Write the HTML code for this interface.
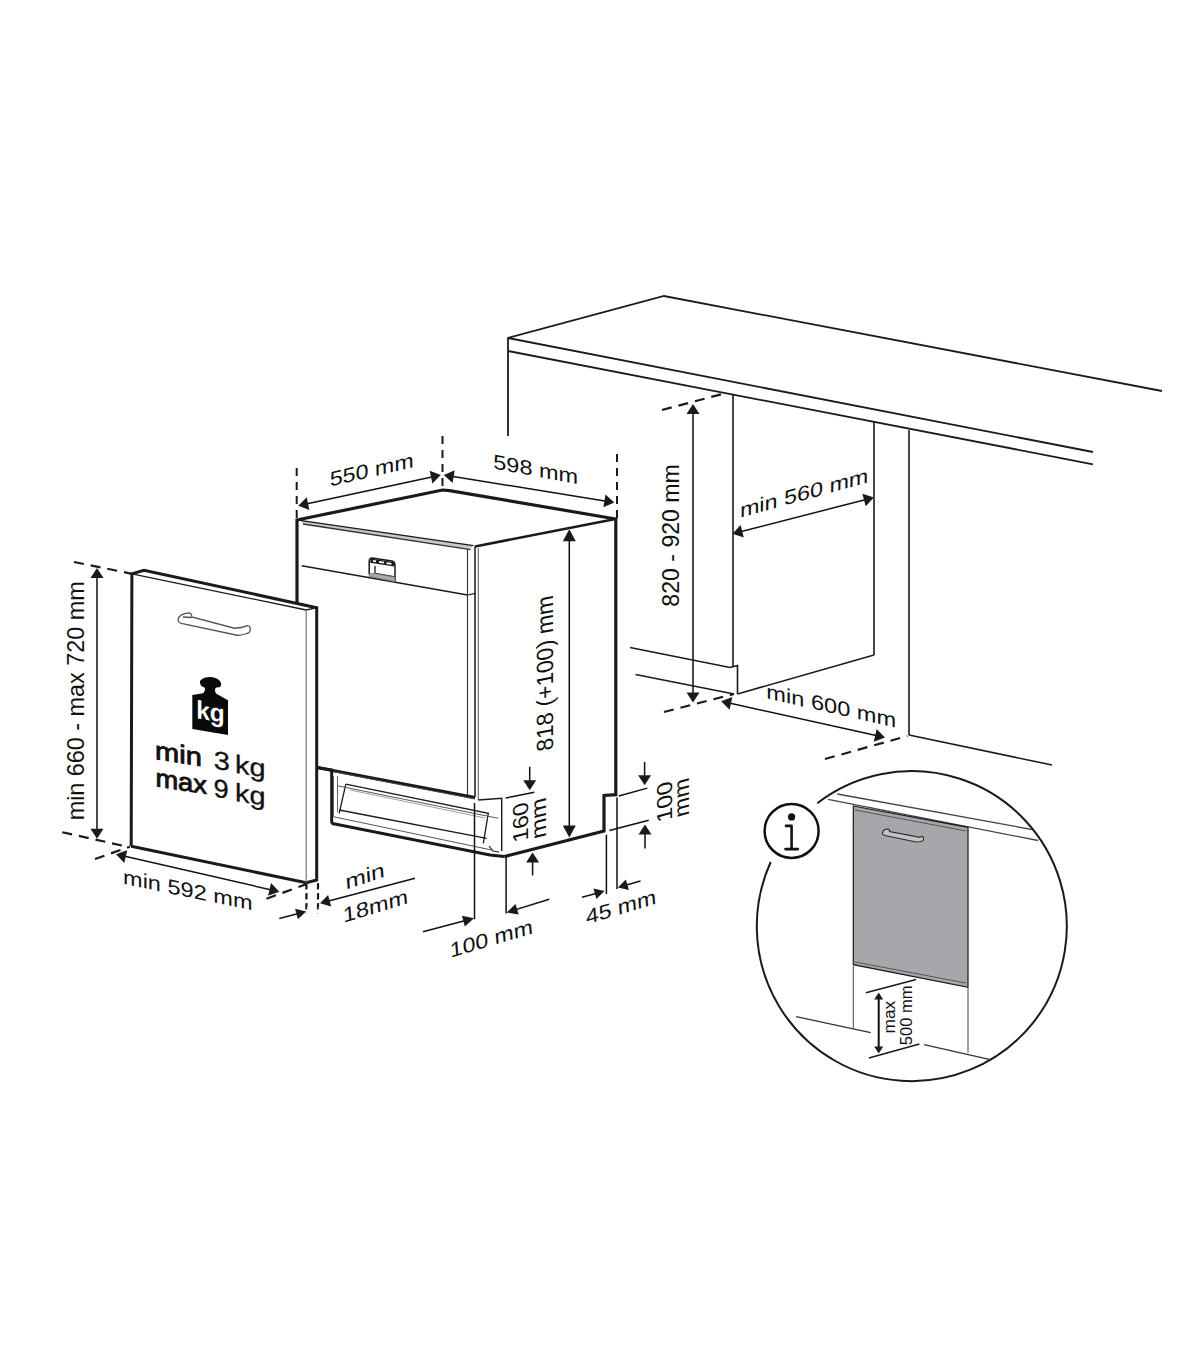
<!DOCTYPE html>
<html><head><meta charset="utf-8"><style>
html,body{margin:0;padding:0;background:#fff;}
svg{display:block;}
text{font-family:"Liberation Sans",sans-serif;}
</style></head><body>
<svg width="1200" height="1372" viewBox="0 0 1200 1372">
<rect width="1200" height="1372" fill="#fff"/>
<polyline points="508,436 508,338 664,296 1162,391" stroke="#1a1a1a" stroke-width="1.8" fill="none" stroke-linejoin="miter"/>
<line x1="508" y1="338" x2="1093" y2="452" stroke="#1a1a1a" stroke-width="1.8" stroke-linecap="butt"/>
<line x1="508" y1="351" x2="1093" y2="464.3" stroke="#1a1a1a" stroke-width="1.8" stroke-linecap="butt"/>
<line x1="733" y1="394" x2="733" y2="666" stroke="#1a1a1a" stroke-width="1.6" stroke-linecap="butt"/>
<line x1="874" y1="421" x2="874" y2="655" stroke="#1a1a1a" stroke-width="1.6" stroke-linecap="butt"/>
<line x1="909" y1="430" x2="909" y2="735" stroke="#1a1a1a" stroke-width="1.6" stroke-linecap="butt"/>
<line x1="909" y1="735" x2="1052" y2="765" stroke="#1a1a1a" stroke-width="1.6" stroke-linecap="butt"/>
<polyline points="630,647.5 730,667.5 737.5,665.5 737.5,694" stroke="#1a1a1a" stroke-width="1.6" fill="none" stroke-linejoin="miter"/>
<line x1="737.5" y1="694" x2="874" y2="655" stroke="#1a1a1a" stroke-width="1.6" stroke-linecap="butt"/>
<line x1="635.5" y1="674.5" x2="734" y2="694" stroke="#1a1a1a" stroke-width="1.6" stroke-linecap="butt"/>
<line x1="662" y1="410" x2="726" y2="393" stroke="#1a1a1a" stroke-width="2.2" stroke-dasharray="10 7" stroke-linecap="butt"/>
<line x1="664" y1="712" x2="734" y2="694" stroke="#1a1a1a" stroke-width="2.2" stroke-dasharray="10 7" stroke-linecap="butt"/>
<line x1="825" y1="759" x2="907.5" y2="736" stroke="#1a1a1a" stroke-width="2.2" stroke-dasharray="10 7" stroke-linecap="butt"/>
<line x1="693" y1="412" x2="693" y2="694.5" stroke="#111" stroke-width="1.5" stroke-linecap="butt"/>
<polygon points="693,404 699.5,414 686.5,414" fill="#1a1a1a"/>
<polygon points="693,702.5 686.5,692.5 699.5,692.5" fill="#1a1a1a"/>
<line x1="740.2" y1="531.8" x2="866" y2="499.5" stroke="#111" stroke-width="1.5" stroke-linecap="butt"/>
<polygon points="732.5,533.8 740.6,525 743.8,537.6" fill="#1a1a1a"/>
<polygon points="873.8,497.5 865.7,506.3 862.4,493.7" fill="#1a1a1a"/>
<line x1="729.1" y1="703" x2="877.2" y2="735.8" stroke="#111" stroke-width="1.5" stroke-linecap="butt"/>
<polygon points="721.2,701.2 732.4,697.1 729.6,709.8" fill="#1a1a1a"/>
<polygon points="885,737.5 873.8,741.7 876.6,729" fill="#1a1a1a"/>
<text transform="translate(679.00 535.45) matrix(1.17 0.0000 0 1 0 0) rotate(-90)" x="0" y="0" font-size="20.00" text-anchor="middle" fill="#111" textLength="142.50" lengthAdjust="spacingAndGlyphs" style="white-space:pre">820 - 920 mm</text>
<text transform="translate(804.12 500.00) matrix(1.17 -0.3224 -0.0100 1 0 0)" x="0" y="0" font-size="20.50" text-anchor="middle" fill="#111" textLength="109.75" lengthAdjust="spacingAndGlyphs" style="white-space:pre">min 560 mm</text>
<text transform="translate(831.25 713.00) matrix(1.17 0.2663 0.0000 1 0 0)" x="0" y="0" font-size="20.50" text-anchor="middle" fill="#111" textLength="111.02" lengthAdjust="spacingAndGlyphs" style="white-space:pre">min 600 mm</text>
<polyline points="297,603 297,520 442.5,490 449.5,490.6 615.8,519 615.8,794.7 604,795.5 604,831 504.2,856.6" stroke="#1a1a1a" stroke-width="3.2" fill="none" stroke-linejoin="miter"/>
<line x1="615.5" y1="519" x2="475" y2="546.5" stroke="#1a1a1a" stroke-width="2.6" stroke-linecap="butt"/>
<polygon points="301,520.5 473,545.5 470,549.5 303,524" stroke="#1a1a1a" stroke-width="0" fill="#c8c8c8" stroke-linejoin="miter"/>
<line x1="300" y1="520.3" x2="473.5" y2="545.6" stroke="#1a1a1a" stroke-width="1.3" stroke-linecap="butt"/>
<line x1="303" y1="524" x2="470.5" y2="549.6" stroke="#333" stroke-width="1.3" stroke-linecap="butt"/>
<line x1="301.7" y1="565.8" x2="467.5" y2="595" stroke="#1a1a1a" stroke-width="1.4" stroke-linecap="butt"/>
<line x1="467.5" y1="595" x2="475.8" y2="593.3" stroke="#1a1a1a" stroke-width="1.2" stroke-linecap="butt"/>
<line x1="467.5" y1="549" x2="467.5" y2="797" stroke="#333" stroke-width="1.1" stroke-linecap="butt"/>
<line x1="475" y1="546.5" x2="475" y2="797" stroke="#1a1a1a" stroke-width="1.5" stroke-linecap="butt"/>
<line x1="478.3" y1="548" x2="478.3" y2="800" stroke="#555" stroke-width="1.0" stroke-linecap="butt"/>
<path d="M369.2,574 L369.2,561 Q369.5,558 372,558 L392,561 Q395,562 395,565 L395,581.7" stroke="#1a1a1a" stroke-width="1.5" fill="none"/>
<line x1="370.5" y1="560.6" x2="394.5" y2="564.4" stroke="#1a1a1a" stroke-width="4.2" stroke-linecap="butt"/>
<line x1="373" y1="560.9" x2="376" y2="561.4" stroke="#fff" stroke-width="1.8" stroke-linecap="butt"/>
<line x1="379" y1="561.9" x2="384" y2="562.7" stroke="#fff" stroke-width="1.8" stroke-linecap="butt"/>
<line x1="386.5" y1="563.1" x2="391.5" y2="563.9" stroke="#fff" stroke-width="1.8" stroke-linecap="butt"/>
<path d="M375,566 L375,573.5 L395,577" stroke="#1a1a1a" stroke-width="1.3" fill="none"/>
<polygon points="369.2,574 375,573.5 395,577 395,581.7 369.2,576.5" stroke="#666" stroke-width="0.8" fill="#aaa" stroke-linejoin="miter"/>
<line x1="317" y1="767.5" x2="475" y2="797.5" stroke="#1a1a1a" stroke-width="3.0" stroke-linecap="butt"/>
<path d="M316.7,767.5 L331.7,770 L331.7,821.7 Q332,824 335,824 L490,855 L504.2,856.6" stroke="#1a1a1a" stroke-width="3.0" fill="none"/>
<line x1="333.3" y1="771.7" x2="475" y2="799" stroke="#444" stroke-width="1.0" stroke-linecap="butt"/>
<line x1="333.5" y1="776" x2="333.5" y2="816" stroke="#666" stroke-width="1.0" stroke-linecap="butt"/>
<line x1="337.5" y1="776" x2="337.5" y2="812" stroke="#666" stroke-width="1.0" stroke-linecap="butt"/>
<polyline points="345.8,784.2 488.3,813.3 483.3,843.3" stroke="#1a1a1a" stroke-width="1.3" fill="none" stroke-linejoin="miter"/>
<line x1="345.8" y1="784.2" x2="339.2" y2="813.3" stroke="#1a1a1a" stroke-width="1.3" stroke-linecap="butt"/>
<line x1="339.2" y1="810" x2="486.7" y2="838.3" stroke="#1a1a1a" stroke-width="1.3" stroke-linecap="butt"/>
<line x1="337.5" y1="785.8" x2="498.3" y2="818.3" stroke="#555" stroke-width="1.0" stroke-linecap="butt"/>
<line x1="333.3" y1="816.7" x2="491.7" y2="850" stroke="#555" stroke-width="1.0" stroke-linecap="butt"/>
<line x1="350" y1="790" x2="485" y2="818" stroke="#888" stroke-width="0.8" stroke-linecap="butt"/>
<polyline points="478.3,800 501.7,798.3 501.7,851" stroke="#1a1a1a" stroke-width="1.4" fill="none" stroke-linejoin="miter"/>
<polyline points="489,846 493,851 499,852" stroke="#1a1a1a" stroke-width="1.2" fill="none" stroke-linejoin="miter"/>
<line x1="296.7" y1="468" x2="296.7" y2="518" stroke="#1a1a1a" stroke-width="2.0" stroke-dasharray="8 6" stroke-linecap="butt"/>
<line x1="442.5" y1="436" x2="442.5" y2="487" stroke="#1a1a1a" stroke-width="2.0" stroke-dasharray="8 6" stroke-linecap="butt"/>
<line x1="617" y1="454" x2="617" y2="522" stroke="#1a1a1a" stroke-width="2.0" stroke-dasharray="8 6" stroke-linecap="butt"/>
<line x1="306.1" y1="504.1" x2="433" y2="476.7" stroke="#111" stroke-width="1.5" stroke-linecap="butt"/>
<polygon points="298.3,505.8 306.7,497.3 309.4,510" fill="#1a1a1a"/>
<polygon points="440.8,475 432.4,483.5 429.7,470.8" fill="#1a1a1a"/>
<line x1="451.7" y1="476.3" x2="606.4" y2="501.2" stroke="#111" stroke-width="1.5" stroke-linecap="butt"/>
<polygon points="443.8,475 454.7,470.2 452.6,483" fill="#1a1a1a"/>
<polygon points="614.3,502.5 603.4,507.3 605.5,494.5" fill="#1a1a1a"/>
<text transform="translate(371.85 476.75) matrix(1.17 -0.2702 0.0200 1 0 0)" x="0" y="0" font-size="20.50" text-anchor="middle" fill="#111" textLength="71.59" lengthAdjust="spacingAndGlyphs" style="white-space:pre">550 mm</text>
<text transform="translate(535.70 476.30) matrix(1.17 0.2157 0.0000 1 0 0)" x="0" y="0" font-size="20.50" text-anchor="middle" fill="#111" textLength="72.49" lengthAdjust="spacingAndGlyphs" style="white-space:pre">598 mm</text>
<line x1="569.3" y1="538.9" x2="569.3" y2="827.9" stroke="#111" stroke-width="1.5" stroke-linecap="butt"/>
<polygon points="569.3,529.3 575.8,541.3 562.8,541.3" fill="#1a1a1a"/>
<polygon points="569.3,837.5 562.8,825.5 575.8,825.5" fill="#1a1a1a"/>
<text transform="translate(553.35 671.95) matrix(1.17 -0.2223 0 1 0 0) rotate(-90)" x="0" y="0" font-size="20.00" text-anchor="middle" fill="#111" textLength="154.93" lengthAdjust="spacingAndGlyphs" style="white-space:pre">818 (+100) mm</text>
<line x1="529.7" y1="766.8" x2="529.7" y2="782.3" stroke="#111" stroke-width="1.5" stroke-linecap="butt"/>
<polygon points="529.7,790.3 523.2,780.3 536.2,780.3" fill="#1a1a1a"/>
<line x1="532.6" y1="875.5" x2="532.6" y2="860.6" stroke="#111" stroke-width="1.5" stroke-linecap="butt"/>
<polygon points="532.6,852.6 539.1,862.6 526.1,862.6" fill="#1a1a1a"/>
<line x1="505.7" y1="798" x2="534.3" y2="792.3" stroke="#111" stroke-width="1.5" stroke-linecap="butt"/>
<text transform="translate(527.75 820.40) matrix(1.17 -0.2925 0 1 0 0) rotate(-90)" x="0" y="0" font-size="18.50" text-anchor="middle" fill="#111" textLength="39.06" lengthAdjust="spacingAndGlyphs" style="white-space:pre">160</text>
<text transform="translate(545.80 816.80) matrix(1.17 -0.2925 0 1 0 0) rotate(-90)" x="0" y="0" font-size="18.50" text-anchor="middle" fill="#111" textLength="40.62" lengthAdjust="spacingAndGlyphs" style="white-space:pre">mm</text>
<line x1="644.6" y1="761.9" x2="644.6" y2="777.2" stroke="#111" stroke-width="1.5" stroke-linecap="butt"/>
<polygon points="644.6,785.2 638.1,775.2 651.1,775.2" fill="#1a1a1a"/>
<line x1="645" y1="848.6" x2="645" y2="832.5" stroke="#111" stroke-width="1.5" stroke-linecap="butt"/>
<polygon points="645,824.5 651.5,834.5 638.5,834.5" fill="#1a1a1a"/>
<line x1="618.8" y1="796" x2="647.3" y2="788.1" stroke="#111" stroke-width="1.5" stroke-linecap="butt"/>
<line x1="609.4" y1="830.4" x2="648.7" y2="820.2" stroke="#111" stroke-width="1.5" stroke-linecap="butt"/>
<text transform="translate(672.25 799.70) matrix(1.17 -0.3276 0 1 0 0) rotate(-90)" x="0" y="0" font-size="18.50" text-anchor="middle" fill="#111" textLength="39.47" lengthAdjust="spacingAndGlyphs" style="white-space:pre">100</text>
<text transform="translate(689.10 795.85) matrix(1.17 -0.3276 0 1 0 0) rotate(-90)" x="0" y="0" font-size="18.50" text-anchor="middle" fill="#111" textLength="38.22" lengthAdjust="spacingAndGlyphs" style="white-space:pre">mm</text>
<line x1="606.4" y1="834.8" x2="606.4" y2="894" stroke="#111" stroke-width="1.5" stroke-linecap="butt"/>
<line x1="617" y1="797.6" x2="617" y2="889" stroke="#111" stroke-width="1.5" stroke-linecap="butt"/>
<line x1="582" y1="897.3" x2="596.8" y2="893.2" stroke="#111" stroke-width="1.5" stroke-linecap="butt"/>
<polygon points="604.5,891 596.4,899 593.4,888.4" fill="#1a1a1a"/>
<line x1="640.5" y1="881" x2="625.5" y2="885.3" stroke="#111" stroke-width="1.5" stroke-linecap="butt"/>
<polygon points="617.8,887.5 625.9,879.5 628.9,890" fill="#1a1a1a"/>
<text transform="translate(621.45 914.00) matrix(1.17 -0.3511 0.0800 1 0 0)" x="0" y="0" font-size="20.50" text-anchor="middle" fill="#111" textLength="59.90" lengthAdjust="spacingAndGlyphs" style="white-space:pre">45 mm</text>
<line x1="474.5" y1="803" x2="474.5" y2="919.3" stroke="#111" stroke-width="1.5" stroke-linecap="butt"/>
<line x1="506.1" y1="857" x2="506.1" y2="913.5" stroke="#111" stroke-width="1.5" stroke-linecap="butt"/>
<line x1="423" y1="931.7" x2="465.5" y2="920.5" stroke="#111" stroke-width="1.5" stroke-linecap="butt"/>
<polygon points="474,918.3 464.8,926.4 462,915.8" fill="#1a1a1a"/>
<line x1="549.3" y1="899.2" x2="515" y2="909.9" stroke="#111" stroke-width="1.5" stroke-linecap="butt"/>
<polygon points="506.6,912.5 515.5,904 518.7,914.5" fill="#1a1a1a"/>
<text transform="translate(491.90 945.50) matrix(1.17 -0.3475 0.0800 1 0 0)" x="0" y="0" font-size="20.50" text-anchor="middle" fill="#111" textLength="70.60" lengthAdjust="spacingAndGlyphs" style="white-space:pre">100 mm</text>
<text transform="translate(365.50 883.00) matrix(1.17 -0.3828 0.0800 1 0 0)" x="0" y="0" font-size="20.50" text-anchor="middle" fill="#111" textLength="33.54" lengthAdjust="spacingAndGlyphs" style="white-space:pre">min</text>
<text transform="translate(375.95 913.00) matrix(1.17 -0.3528 0.0800 1 0 0)" x="0" y="0" font-size="20.50" text-anchor="middle" fill="#111" textLength="55.40" lengthAdjust="spacingAndGlyphs" style="white-space:pre">18mm</text>
<line x1="415" y1="878.3" x2="327.7" y2="901.3" stroke="#111" stroke-width="1.5" stroke-linecap="butt"/>
<polygon points="320,903.3 328.1,895 331.2,906.6" fill="#1a1a1a"/>
<line x1="306.7" y1="883" x2="306.7" y2="907" stroke="#1a1a1a" stroke-width="1.6" stroke-dasharray="6 4" stroke-linecap="butt"/>
<line x1="318.3" y1="883" x2="318.3" y2="907" stroke="#1a1a1a" stroke-width="1.6" stroke-dasharray="6 4" stroke-linecap="butt"/>
<polygon points="131.9,573.8 144,570.3 316.7,607.7 316.7,880 306.2,882.8 131.2,846.2" stroke="#1a1a1a" stroke-width="0" fill="#fff" stroke-linejoin="miter"/>
<polyline points="131.2,846.2 131.9,573.8 144,570.3 316.7,607.7 316.7,880 306.2,882.8 131.2,846.2" stroke="#1a1a1a" stroke-width="3.0" fill="none" stroke-linejoin="miter"/>
<line x1="131.9" y1="573.8" x2="306.2" y2="610" stroke="#1a1a1a" stroke-width="1.3" stroke-linecap="butt"/>
<line x1="306.2" y1="610" x2="316.7" y2="607.7" stroke="#1a1a1a" stroke-width="1.3" stroke-linecap="butt"/>
<line x1="306.2" y1="610" x2="306.2" y2="882.8" stroke="#777" stroke-width="1.2" stroke-linecap="butt"/>
<path d="M178.25,619.25 Q179,614 188.75,612.9 Q192,613.5 191.75,617 L234.5,628.25 Q242,628 247.25,625.6 Q251,626 250.25,630 Q250,633 247,633.5 Q240,636 236,635 L181.25,623.4 Q177.5,622 178.25,619.25 Z M182.75,617 L191.75,617.5" stroke="#555" stroke-width="1.3" fill="none"/>
<path d="M192.3,695 L203,693.3 Q206,690 204.5,687.5 Q199.3,686 200,681 Q203,677 210,677 Q219,677.5 221,683 Q222,688 216,687.5 Q214,690 216,693.5 L228,700.3 L228,735 L192.3,729 Z" stroke="#1a1a1a" stroke-width="0" fill="#0a0a0a"/>
<text transform="translate(210.5 720.5) skewY(9)" x="0" y="0" style="white-space:pre" font-size="25.5" text-anchor="middle" fill="#fff" font-weight="bold" textLength="28.5" lengthAdjust="spacingAndGlyphs">kg</text>
<text transform="translate(178.40 762.60) matrix(1 0.1540 0.0000 1 0 0)" x="0" y="0" font-size="25.50" text-anchor="middle" fill="#111" stroke="#111" stroke-width="0.9" stroke-linejoin="round" textLength="46.73" lengthAdjust="spacingAndGlyphs">min</text>
<text transform="translate(181.15 790.25) matrix(1 0.1540 0.0000 1 0 0)" x="0" y="0" font-size="25.50" text-anchor="middle" fill="#111" stroke="#111" stroke-width="0.9" stroke-linejoin="round" textLength="51.43" lengthAdjust="spacingAndGlyphs">max</text>
<text transform="translate(221.75 769.75) matrix(1 0.1540 0.0000 1 0 0)" x="0" y="0" font-size="25.50" text-anchor="middle" fill="#111" stroke="#111" stroke-width="0.3" textLength="16.18" lengthAdjust="spacingAndGlyphs">3</text>
<text transform="translate(250.25 775.20) matrix(1 0.1540 0.0000 1 0 0)" x="0" y="0" font-size="25.50" text-anchor="middle" fill="#111" stroke="#111" stroke-width="0.3" textLength="30.53" lengthAdjust="spacingAndGlyphs">kg</text>
<text transform="translate(221.00 797.55) matrix(1 0.1540 0.0000 1 0 0)" x="0" y="0" font-size="25.50" text-anchor="middle" fill="#111" stroke="#111" stroke-width="0.3" textLength="15.18" lengthAdjust="spacingAndGlyphs">9</text>
<text transform="translate(250.25 803.40) matrix(1 0.1540 0.0000 1 0 0)" x="0" y="0" font-size="25.50" text-anchor="middle" fill="#111" stroke="#111" stroke-width="0.3" textLength="30.53" lengthAdjust="spacingAndGlyphs">kg</text>
<line x1="97" y1="576" x2="97" y2="830.7" stroke="#111" stroke-width="1.5" stroke-linecap="butt"/>
<polygon points="97,568 103.5,578 90.5,578" fill="#1a1a1a"/>
<polygon points="97,838.7 90.5,828.7 103.5,828.7" fill="#1a1a1a"/>
<line x1="74" y1="562" x2="131.9" y2="573.8" stroke="#1a1a1a" stroke-width="2.2" stroke-dasharray="10 7" stroke-linecap="butt"/>
<line x1="62.3" y1="832.2" x2="130" y2="847.3" stroke="#1a1a1a" stroke-width="2.2" stroke-dasharray="10 7" stroke-linecap="butt"/>
<line x1="95" y1="859" x2="129" y2="847" stroke="#1a1a1a" stroke-width="2.2" stroke-dasharray="10 7" stroke-linecap="butt"/>
<line x1="123.8" y1="856.1" x2="271.5" y2="889.9" stroke="#111" stroke-width="1.5" stroke-linecap="butt"/>
<polygon points="116,854.3 127.2,850.2 124.3,862.9" fill="#1a1a1a"/>
<polygon points="279.3,891.7 268.1,895.8 271,883.1" fill="#1a1a1a"/>
<line x1="266.5" y1="898.7" x2="306.2" y2="884.2" stroke="#1a1a1a" stroke-width="2.2" stroke-dasharray="10 7" stroke-linecap="butt"/>
<line x1="306.2" y1="883.5" x2="306.2" y2="913.8" stroke="#1a1a1a" stroke-width="1.8" stroke-dasharray="6 4" stroke-linecap="butt"/>
<line x1="317.8" y1="883.5" x2="317.8" y2="913.8" stroke="#1a1a1a" stroke-width="1.8" stroke-dasharray="6 4" stroke-linecap="butt"/>
<line x1="279.3" y1="918.5" x2="298.5" y2="913.5" stroke="#111" stroke-width="1.5" stroke-linecap="butt"/>
<polygon points="306.2,911.5 297.9,919.3 295.1,908.7" fill="#1a1a1a"/>
<text transform="translate(84.40 700.85) matrix(1.17 0.0000 0 1 0 0) rotate(-90)" x="0" y="0" font-size="20.00" text-anchor="middle" fill="#111" textLength="238.97" lengthAdjust="spacingAndGlyphs" style="white-space:pre">min 660 - max 720 mm</text>
<text transform="translate(187.75 897.05) matrix(1.17 0.2411 0.0000 1 0 0)" x="0" y="0" font-size="20.50" text-anchor="middle" fill="#111" textLength="110.63" lengthAdjust="spacingAndGlyphs" style="white-space:pre">min 592 mm</text>
<path d="M770.7,862 A155,155 0 1 0 817.3,803.3" stroke="#1a1a1a" stroke-width="2.0" fill="none"/>
<circle cx="791.6" cy="830.9" r="27" stroke="#111" stroke-width="2.5" fill="none"/>
<circle cx="791.6" cy="816.9" r="3.6" fill="#111"/>
<path d="M786,825.9 L791.6,825.9 L791.6,849.1 M785.5,849.1 L797.8,849.1" stroke="#111" stroke-width="2.6" fill="none" stroke-linecap="round" stroke-linejoin="round"/>
<line x1="837.3" y1="794" x2="1032" y2="829.5" stroke="#444" stroke-width="1.3" stroke-linecap="butt"/>
<line x1="828" y1="799.3" x2="1038" y2="840.5" stroke="#444" stroke-width="1.3" stroke-linecap="butt"/>
<polygon points="853.3,806 968,827.3 968,987.3 853.3,964.7" stroke="#1a1a1a" stroke-width="1.2" fill="#a6a7aa" stroke-linejoin="miter"/>
<line x1="855" y1="810" x2="966" y2="831" stroke="#555" stroke-width="1.0" stroke-linecap="butt"/>
<line x1="855" y1="962" x2="966" y2="983" stroke="#555" stroke-width="1.0" stroke-linecap="butt"/>
<path d="M882.5,833 Q883,829 888,829 Q890,829.5 889.5,831.5 L920,837.3 Q922,836 922.5,836.5 Q924,837.5 923.5,840 Q922,842 916,842 L885,835.5 Q882,834.5 882.5,833 Z" stroke="#2a2a2a" stroke-width="1.1" fill="#c4c4c6"/>
<line x1="853.3" y1="966" x2="853.3" y2="1028.7" stroke="#555" stroke-width="1.1" stroke-linecap="butt"/>
<line x1="968" y1="987.3" x2="968" y2="1052.7" stroke="#555" stroke-width="1.1" stroke-linecap="butt"/>
<line x1="796" y1="1016.7" x2="870.7" y2="1032.7" stroke="#333" stroke-width="1.3" stroke-linecap="butt"/>
<line x1="924" y1="1044.7" x2="989.3" y2="1059.3" stroke="#333" stroke-width="1.3" stroke-linecap="butt"/>
<line x1="878.7" y1="998" x2="878.7" y2="1047.8" stroke="#111" stroke-width="2" stroke-linecap="butt"/>
<polygon points="878.7,992.4 883.2,999.4 874.2,999.4" fill="#1a1a1a"/>
<polygon points="878.7,1053.4 874.2,1046.4 883.2,1046.4" fill="#1a1a1a"/>
<line x1="865.9" y1="992.7" x2="916.1" y2="979.6" stroke="#1a1a1a" stroke-width="1.6" stroke-linecap="butt"/>
<line x1="868.9" y1="1058" x2="919.4" y2="1043.9" stroke="#1a1a1a" stroke-width="1.6" stroke-linecap="butt"/>
<text transform="translate(894.95 1017.15) matrix(1.17 0.0000 0 1 0 0) rotate(-90)" x="0" y="0" font-size="14.20" text-anchor="middle" fill="#111" textLength="32.80" lengthAdjust="spacingAndGlyphs" style="white-space:pre">max</text>
<text transform="translate(911.65 1015.40) matrix(1.17 0.0000 0 1 0 0) rotate(-90)" x="0" y="0" font-size="14.20" text-anchor="middle" fill="#111" textLength="59.64" lengthAdjust="spacingAndGlyphs" style="white-space:pre">500 mm</text>
</svg>
</body></html>
